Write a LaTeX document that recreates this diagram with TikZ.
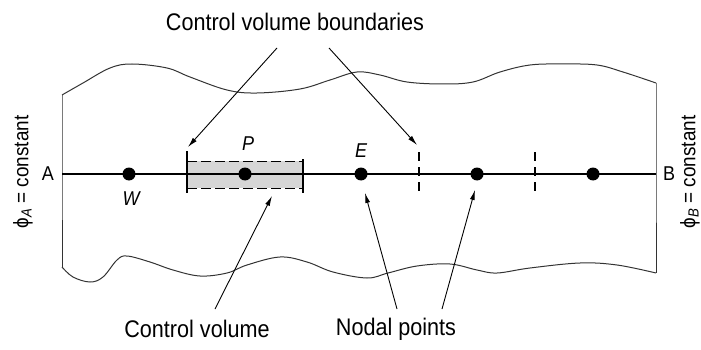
\documentclass[tikz,border=0pt]{standalone}
\usepackage{fontspec}
\setmainfont[FakeStretch=0.9]{Liberation Sans}
\usetikzlibrary{arrows.meta, calc}

\begin{document}
\begin{tikzpicture}[
    x=1pt, y=-1pt,
    >={Latex[length=10pt,width=5pt]}, % Set default arrow tip style
    dot/.style={fill=black, circle, inner sep=0pt, minimum size=13pt}, % Style for nodal points
    edge/.style={black!80, line width=1pt},
    lbl/.style={font=\fontsize{24}{28}\selectfont},
    ptlbl/.style={font=\fontsize{20}{24}\selectfont\itshape},
    pointer/.style={->, line width=0.9pt}
]

\useasboundingbox (0,0) rectangle (701,350);

% Shaded control volume
\fill[black!16] (187,161) rectangle (303,188);
\draw[line width=1pt, dash pattern=on 10pt off 4pt] (187,161) -- (303,161) (187,188) -- (303,188);

% Torn upper and lower edges of the domain
\draw[edge] plot[smooth, tension=0.6] coordinates {(62,95) (83,83) (110,68) (132,64) (167,68) (190,77) (227,90) (257,93) (300,89) (330,80) (357,72) (380,75) (407,82) (443,84) (473,82) (500,72) (530,65) (563,64) (597,65) (623,72) (656,83)};
\draw[edge] plot[smooth, tension=0.6] coordinates {(62,267) (73,277) (90,282) (103,277) (117,260) (127,256) (150,262) (173,270) (200,276) (227,273) (247,265) (280,257) (307,262) (333,272) (367,278) (388,273) (417,266) (450,264) (477,270) (497,273) (530,268) (580,263) (617,265) (656,273)};

% Boundaries A and B
\coordinate (A) at (62,174);
\coordinate (B) at (656,174);
\draw[edge] (62,95) -- (A) -- (62,267);
\draw[edge] (656,83) -- (B) -- (656,273);
\node[lbl, font=\fontsize{20}{24}\selectfont] (Alabel) at (48,174) {A};
\node[lbl, font=\fontsize{20}{24}\selectfont] (Blabel) at (669,174) {B};
\node[lbl, font=\fontsize{21}{25}\selectfont, rotate=90] (phiA) at (23,172) {ϕ\textsubscript{\itshape A} = constant};
\node[lbl, font=\fontsize{21}{25}\selectfont, rotate=90] (phiB) at (690,172) {ϕ\textsubscript{\itshape B} = constant};

% Line joining A and B
\draw[line width=2.5pt] (A) -- (B);

% Control volume faces
\draw[line width=1.1pt] (187,151) -- (187,193);
\draw[line width=1.1pt] (303,159) -- (303,193);
\foreach \xf in {419,535}
    \draw[line width=1.1pt, dash pattern=on 9pt off 6pt] (\xf,152) -- (\xf,193);

% Nodal points
\node[dot] (W) at (129,174) {};
\node[dot] (P) at (245,174) {};
\node[dot] (E) at (361,174) {};
\node[dot] (N4) at (477,174) {};
\node[dot] (N5) at (593,174) {};
\node[ptlbl] (Wlabel) at (131,199) {W};
\node[ptlbl] (Plabel) at (248,144) {P};
\node[ptlbl] (Elabel) at (361,151) {E};

% Labels and pointers
\node[lbl] (cvb) at (295,22) {Control volume boundaries};
\node[lbl] (cv) at (197,329) {Control volume};
\node[lbl] (np) at (396,329) {Nodal points};

\coordinate (cvb1) at (277,48);
\coordinate (cvb2) at (329,48);
\coordinate (faceL) at (188,147);
\coordinate (faceR) at (417,145);
\draw[pointer] (cvb1) -- (faceL);
\draw[pointer] (cvb2) -- (faceR);

\coordinate (cv1) at (215,309);
\coordinate (cvbox) at (272,196);
\draw[pointer] (cv1) -- (cvbox);

\coordinate (np1) at (397,309);
\coordinate (np2) at (442,309);
\draw[pointer] (np1) -- ($(E)+(4,19)$);
\draw[pointer] (np2) -- ($(N4)+(-2,16)$);

\end{tikzpicture}
\end{document}
